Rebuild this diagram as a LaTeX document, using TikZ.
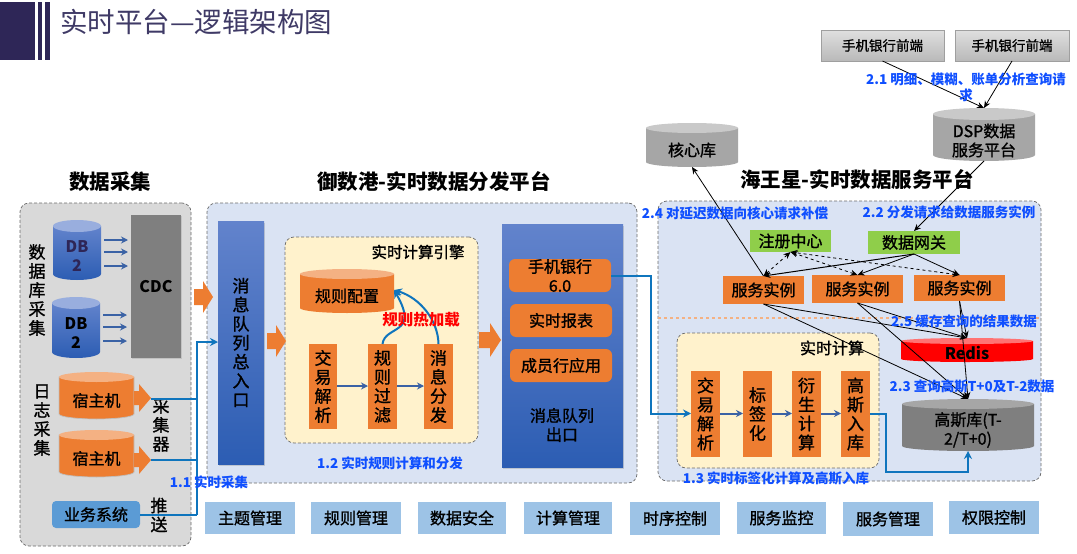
\documentclass[tikz,border=0pt]{standalone}
\usepackage{fontspec}
\setmainfont{Noto Sans CJK SC}[UprightFeatures={FakeBold=1.2}]
\newfontfamily\lightf{Noto Sans CJK SC}
\usetikzlibrary{arrows.meta,shadows,calc}
\definecolor{navy}{HTML}{2E2657}
\definecolor{titlec}{HTML}{3F3A66}
\definecolor{orangeb}{HTML}{ED7D31}
\definecolor{orangel}{HTML}{F4B183}
\definecolor{bluepanel}{HTML}{DAE3F3}
\definecolor{graypanel}{HTML}{D9D9D9}
\definecolor{creampanel}{HTML}{FFF2CC}
\definecolor{linkblue}{HTML}{0F75BD}
\definecolor{stepblue}{HTML}{3A62A5}
\definecolor{labelblue}{HTML}{0F4FFF}
\definecolor{mgmt}{HTML}{9DC3E6}
\definecolor{bizblue}{HTML}{5B9BD5}
\definecolor{greenbox}{HTML}{8FCE4A}
\definecolor{gradtop}{HTML}{6283CC}
\definecolor{gradbot}{HTML}{2C5DB3}
\definecolor{darkgray}{HTML}{7F7F7F}
\definecolor{midgray}{HTML}{A6A6A6}
\definecolor{topgray}{HTML}{C9C9C9}
\setlength{\lineskiplimit}{-30pt}
\newcommand{\fsz}[2]{\fontsize{#1}{#2}\selectfont}
% \rbx{style}{name}{x1}{y1}{x2}{y2}{text}
\newcommand{\rbx}[7]{\node[#1,minimum width={(#5-#3)*1pt},minimum height={(#6-#4)*1pt}] (#2) at ({(#3+#5)/2},{(#4+#6)/2}) {#7};}
% \cyl{name}{x1}{y1}{x2}{y2}{ry}{body opts}{top colour}{text style}{text}
\newcommand{\cyl}[9]{%
  \path[#7] (#2,#3+#6) -- (#2,#5-#6) arc[start angle=180,end angle=360,x radius={(#4-#2)/2*1pt},y radius={#6*1pt}] -- (#4,#3+#6) -- cycle;
  \fill[#8] ({(#2+#4)/2},#3+#6) ellipse[x radius={(#4-#2)/2*1pt},y radius={#6*1pt}];
  \rbx{plain}{#1}{#2}{#3}{#4}{#5}{}
  \cyltext{#1}{#2}{#3}{#4}{#5}{#6}{#9}}
\newcommand{\cyltext}[7]{\cylfinal{#1}{({(#2+#4)/2},{(#3+#5+2*#6)/2})}{#7}}
\newcommand{\cylfinal}[3]{\def\cylstyle{#3}\cylnext{#1}{#2}}
\newcommand{\cylnext}[3]{\node[cyltxt,\cylstyle] (#1-t) at #2 {#3};}
\tikzset{
  plain/.style={inner sep=0pt,outer sep=0pt},
  panel/.style={plain,draw=gray!85!black,densely dashed,line width=.7pt,rounded corners=9pt},
  cyltxt/.style={plain,align=center,font=\fsz{16}{19}},
  orangebox/.style={plain,fill=orangeb,align=center,font=\fsz{17}{19}},
  roundbox/.style={orangebox,rounded corners=6pt,font=\fsz{16}{19}},
  instancebox/.style={orangebox,font=\fsz{16}{19}},
  greenrect/.style={plain,fill=greenbox,font=\fsz{16}{19}},
  queue/.style={plain,top color=gradtop,bottom color=gradbot,align=center,drop shadow={opacity=.3,shadow xshift=1pt,shadow yshift=-1.5pt}},
  mgmtbox/.style={plain,fill=mgmt,font=\fsz{16}{19}},
  frontbox/.style={plain,draw=gray!75,top color=gray!25,bottom color=gray!55,font=\fsz{13.5}{16}},
  vtext/.style={plain,align=center,font=\fsz{17}{19}},
  heading/.style={plain,font=\fsz{20.5}{24}\bfseries},
  bluelabel/.style={plain,align=center,text=labelblue,font=\fsz{13.5}{16}\bfseries},
  smallarrow/.style={draw=stepblue,line width=2pt,-{Stealth[length=7pt,width=7pt]}},
  linkline/.style={draw=linkblue,line width=2pt},
  linkarrow/.style={linkline,-{Stealth[length=8pt,width=8pt]}},
  thinarrow/.style={draw=black,line width=.8pt,-{Stealth[length=7pt,width=6pt]}},
  dasharrow/.style={draw=black,line width=.8pt,dashed,{Stealth[length=7pt,width=6pt]}-{Stealth[length=7pt,width=6pt]}},
  bigarrow/.style={fill=orangeb,draw=none},
}
% \bigarr{x1}{x2}{yc}{shaft half}{head half}{head start}
\newcommand{\bigarr}[6]{\fill[bigarrow] (#1,#3-#4) -- (#6,#3-#4) -- (#6,#3-#5) -- (#2,#3) -- (#6,#3+#5) -- (#6,#3+#4) -- (#1,#3+#4) -- cycle;}
\begin{document}
\begin{tikzpicture}[x=1pt,y=-1pt]
\useasboundingbox (0,0) rectangle (1077,554);
\fill[white] (0,0) rectangle (1077,554);
% title
\fill[navy] (0,2) rectangle (35,60);
\fill[navy] (38,2) rectangle (42,60);
\fill[navy] (45,2) rectangle (50,60);
\node[plain,anchor=west,text=titlec,font=\lightf\fsz{27.5}{30}] (title) at (60,22) {实时平台—逻辑架构图};
% headings
\node[heading] (h1) at (110,182) {数据采集};
\node[heading] (h2) at (434,182) {御数港-实时数据分发平台};
% panels
\rbx{panel,fill=graypanel}{pgray}{20}{203}{191}{546}{}
\rbx{panel,fill=bluepanel}{pdist}{207}{203}{637}{483}{}
\rbx{panel,fill=bluepanel}{pserv}{658}{201}{1041}{481}{}
\rbx{panel,fill=creampanel}{pengine}{285}{237}{478}{443}{}
\rbx{panel,fill=creampanel}{pcalc}{677}{333}{879}{468}{}
% collection
\cyl{dba}{53}{220}{101}{280}{6}{top color=gradtop,bottom color=gradbot}{gradtop!65!white}{cyltxt}{\textcolor{navy}{\textbf{DB}}\\\textcolor{navy}{\textbf{2}}}
\cyl{dbb}{52}{297}{100}{358}{6}{top color=gradtop,bottom color=gradbot}{gradtop!65!white}{cyltxt}{\textbf{DB}\\\textbf{2}}
\rbx{plain,fill=darkgray,drop shadow={opacity=.25,shadow xshift=1pt,shadow yshift=-1pt},font=\fsz{16}{19}\bfseries}{cdc}{131}{215}{181}{358}{CDC}
\coordinate (a1s) at (104,240); \coordinate (a1e) at (128,240);
\coordinate (a2s) at (104,252); \coordinate (a2e) at (128,252);
\coordinate (a3s) at (104,266); \coordinate (a3e) at (128,266);
\coordinate (a4s) at (103,315); \coordinate (a4e) at (127,315);
\coordinate (a5s) at (103,327); \coordinate (a5e) at (127,327);
\coordinate (a6s) at (103,341); \coordinate (a6e) at (127,341);
\draw[smallarrow] (a1s)--(a1e);\draw[smallarrow] (a2s)--(a2e);\draw[smallarrow] (a3s)--(a3e);
\draw[smallarrow] (a4s)--(a4e);\draw[smallarrow] (a5s)--(a5e);\draw[smallarrow] (a6s)--(a6e);
\node[vtext] (vdb) at (37,290) {数\\据\\库\\采\\集};
\node[vtext] (vlog) at (42,420) {日\\志\\采\\集};
\cyl{hosta}{59}{372}{134}{419}{5}{fill=orangeb,draw=gray!50,line width=.7pt}{orangel}{cyltxt}{宿主机}
\cyl{hostb}{59}{430}{134}{477}{5}{fill=orangeb,draw=gray!50,line width=.7pt}{orangel}{cyltxt}{宿主机}
\bigarr{134}{151}{398}{7}{14}{139}
\bigarr{134}{151}{460}{7}{14}{139}
\rbx{plain,fill=bizblue,rounded corners=4pt,font=\fsz{16}{19}}{biz}{52}{501}{140}{528}{业务系统}
\coordinate (junctionA) at (197,399);
\coordinate (junctionB) at (197,460);
\coordinate (junctionC) at (197,514.5);
\coordinate (collA) at (151,399);
\coordinate (collB) at (151,460);
\node[vtext] (vcoll) at (161,425) {采\\集\\器};
\node[vtext] (vpush) at (159,515) {推\\送};
\draw[linkline] (collA)--(junctionA);
\draw[linkline] (collB)--(junctionB);
\draw[linkline] (biz.east |- junctionC)--(junctionC);
% orange big arrows
\bigarr{194}{213}{297}{8}{16}{203}
\bigarr{267}{286}{341}{8}{16}{276}
\bigarr{479}{501}{340}{8}{17}{490}
% queue entry
\rbx{queue,font=\fsz{17}{19}}{entry}{218}{221}{264}{464}{消\\息\\队\\列\\总\\入\\口}
\coordinate (entryIn) at (entry.west |- 197,342);
\draw[linkarrow] (junctionC)--(197,342)--(entryIn);
% engine
\node[plain,font=\fsz{15.5}{19}] (enginet) at (418,252) {实时计算引擎};
\cyl{rulecfg}{300}{269}{394}{313}{5}{fill=orangeb}{orangel}{cyltxt}{规则配置}
\rbx{orangebox}{e1}{309}{344}{337}{429}{交\\易\\解\\析}
\rbx{orangebox}{e2}{368}{344}{397}{429}{规\\则\\过\\滤}
\rbx{orangebox}{e3}{424}{344}{453}{429}{消\\息\\分\\发}
\draw[smallarrow] (e1.east |- 0,386)--(e2.west |- 0,386);
\draw[smallarrow] (e2.east |- 0,386)--(e3.west |- 0,386);
\coordinate (hot) at (394,290);
\draw[linkarrow] (e2.north) .. controls (385,325) and (420,335) .. (hot);
\draw[linkarrow] (e3.north) .. controls (438,320) and (420,298) .. (hot);
\node[plain,text=red,font=\fsz{15.5}{19}\bfseries] (hotl) at (421,320) {规则热加载};
% output queue
\rbx{queue}{outq}{502}{224}{623}{467}{}
\rbx{roundbox}{o1}{509}{259}{611}{292}{手机银行\\6.0}
\rbx{roundbox}{o2}{510}{304}{612}{337}{实时报表}
\rbx{roundbox}{o3}{510}{349}{612}{382}{成员行应用}
\node[plain,align=center,font=\fsz{16}{19}] (outl) at (562,425) {消息队列\\出口};
% service area
\draw[orangel,dashed,line width=1.2pt] (pserv.west |- 0,318) -- (pserv.east |- 0,318);
\rbx{greenrect}{reg}{750}{230}{831}{252}{注册中心}
\rbx{greenrect}{gate}{868}{231}{960}{254}{数据网关}
\rbx{instancebox}{sa}{723}{276}{804}{304}{服务实例}
\rbx{instancebox}{sb}{812}{275}{903}{303}{服务实例}
\rbx{instancebox}{sc}{914}{275}{1005}{301}{服务实例}
\rbx{frontbox}{fa}{821}{30}{944}{61}{手机银行前端}
\rbx{frontbox}{fb}{955}{30}{1069}{61}{手机银行前端}
\cyl{dsp}{933}{108}{1035}{161}{6}{fill=midgray}{topgray}{cyltxt}{DSP数据\\服务平台}
\cyl{core}{646}{123}{738}{167}{5}{fill=midgray}{topgray}{cyltxt}{核心库}
\cyl{redis}{901}{338}{1033}{362}{3}{fill=red}{red!55!white}{cyltxt}{\textbf{Redis}}
\cyl{gauss}{902}{399}{1034}{451}{5}{fill=darkgray}{midgray}{cyltxt}{高斯库(T-\\2/T+0)}
\node[heading] (h3) at (857,180) {海王星-实时数据服务平台};
\draw[thinarrow] (fa.south) -- (dsp.north);
\draw[thinarrow] (fb.south) -- (dsp.north);
\draw[thinarrow] (dsp.south) -- (gate.north);
\draw[thinarrow,line width=1pt] (gate.south) -- (sa.north);
\draw[thinarrow] (gate.south) -- (sb.north);
\draw[thinarrow] (gate.south) -- (sc.north);
\draw[thinarrow] (sa.north) -- (core.south);
\draw[dasharrow] (sa.north) -- (reg.south);
\draw[dasharrow] (sb.north) -- (reg.south);
\draw[dasharrow] (sc.north) -- (reg.south);
\draw[thinarrow] (sa.south) -- (redis.north);
\draw[thinarrow] (sa.south) -- (gauss.north);
\draw[thinarrow] (sb.south) -- (redis.north);
\draw[thinarrow] (sb.south) -- (gauss.north);
\draw[thinarrow] (sc.south) -- (redis.north);
\draw[thinarrow] (sc.south) -- (gauss.north);
% realtime calc
\node[plain,font=\fsz{16}{19}] (calct) at (832,348) {实时计算};
\rbx{orangebox}{c1}{691}{371}{720}{457}{交\\易\\解\\析}
\rbx{orangebox}{c2}{743}{371}{772}{457}{标\\签\\化}
\rbx{orangebox}{c3}{792}{371}{821}{457}{衍\\生\\计\\算}
\rbx{orangebox}{c4}{841}{371}{870}{457}{高\\斯\\入\\库}
\draw[smallarrow] (c1.east |- 0,413.5)--(c2.west |- 0,413.5);
\draw[smallarrow] (c2.east |- 0,413.5)--(c3.west |- 0,413.5);
\draw[smallarrow] (c3.east |- 0,413.5)--(c4.west |- 0,413.5);
\draw[linkarrow] (o1.east) -- (651,275.5) -- (651,413.5) -- (c1.west |- 0,413.5);
\draw[linkarrow] (c4.east |- 0,413.5) -- (886,413.5) -- (886,472) -- (gauss.south |- 0,472) -- (gauss.south);
% management row
\rbx{mgmtbox}{m1}{205}{502}{295}{534}{主题管理}
\rbx{mgmtbox}{m2}{311}{502}{401}{534}{规则管理}
\rbx{mgmtbox}{m3}{418}{502}{506}{534}{数据安全}
\rbx{mgmtbox}{m4}{524}{502}{612}{534}{计算管理}
\rbx{mgmtbox}{m5}{630}{502}{720}{535}{时序控制}
\rbx{mgmtbox}{m6}{737}{502}{826}{534}{服务监控}
\rbx{mgmtbox}{m7}{843}{502}{933}{536}{服务管理}
\rbx{mgmtbox}{m8}{949}{501}{1039}{534}{权限控制}
% blue labels
\node[bluelabel] (l11) at (209,482) {1.1 实时采集};
\node[bluelabel] (l12) at (390,463) {1.2 实时规则计算和分发};
\node[bluelabel] (l13) at (776,478) {1.3 实时标签化计算及高斯入库};
\node[bluelabel] (l21) at (966,87) {2.1 明细、模糊、账单分析查询请\\求};
\node[bluelabel] (l22) at (949,212) {2.2 分发请求给数据服务实例};
\node[bluelabel] (l23) at (972,386) {2.3 查询高斯T+0及T-2数据};
\node[bluelabel] (l24) at (735,213) {2.4 对延迟数据向核心请求补偿};
\node[bluelabel] (l25) at (964,321) {2.5 缓存查询的结果数据};
\end{tikzpicture}
\end{document}
